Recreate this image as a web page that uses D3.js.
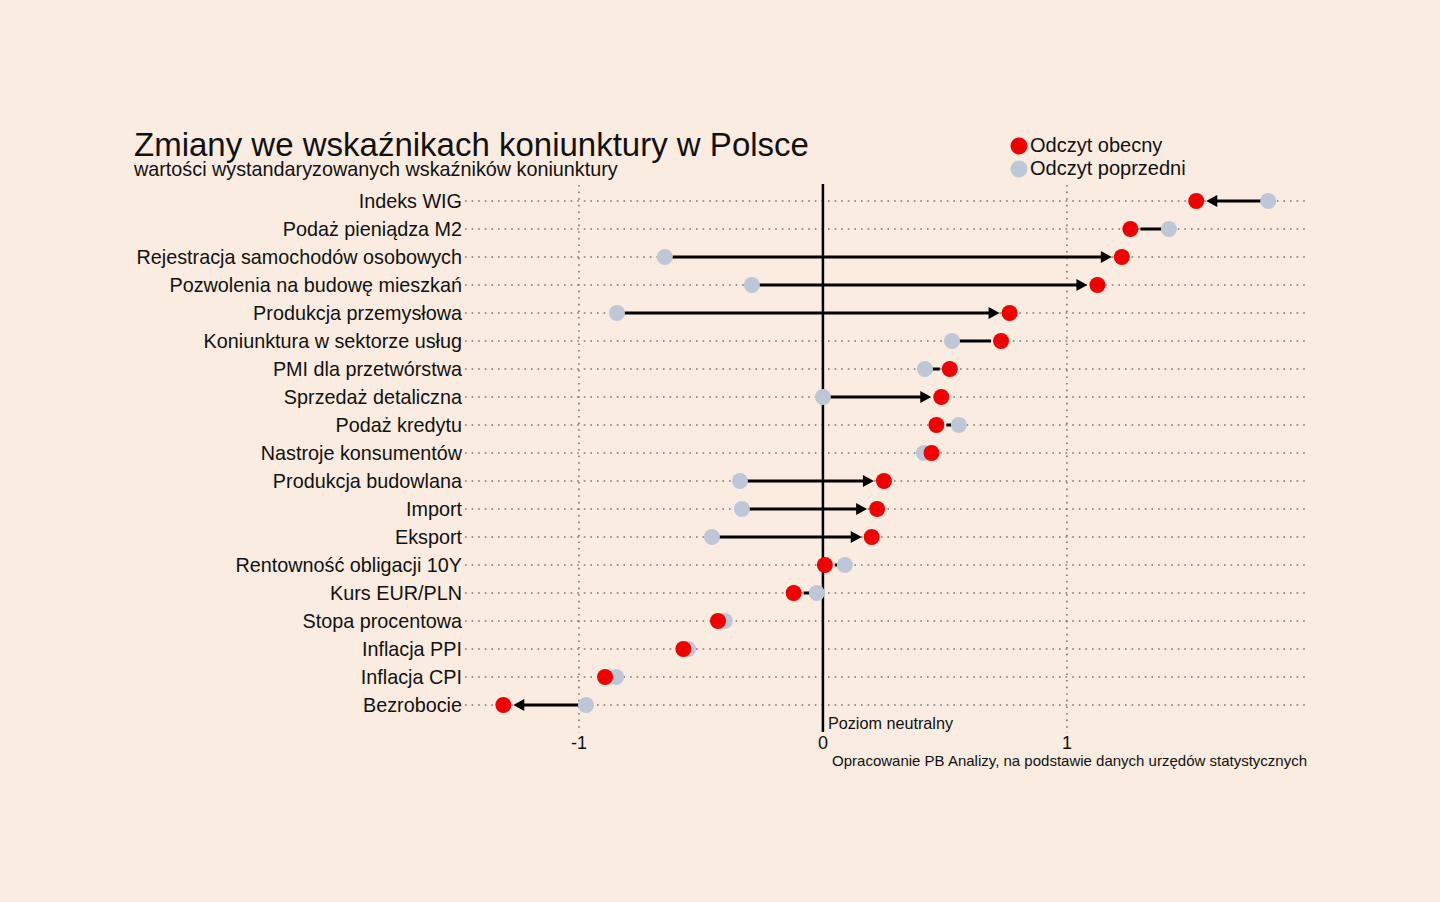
<!DOCTYPE html>
<html>
<head>
<meta charset="utf-8">
<script src="https://cdn.jsdelivr.net/npm/d3@7"></script>
<style>
  html, body { margin: 0; padding: 0; background: #faece0; }
  svg { display: block; font-family: "Liberation Sans", Arial, sans-serif; }
</style>
</head>
<body>
<div id="chart"></div>
<script>
// indicators, top to bottom
const categories = [
  "Indeks WIG", "Podaż pieniądza M2", "Rejestracja samochodów osobowych",
  "Pozwolenia na budowę mieszkań", "Produkcja przemysłowa", "Koniunktura w sektorze usług",
  "PMI dla przetwórstwa", "Sprzedaż detaliczna", "Podaż kredytu", "Nastroje konsumentów",
  "Produkcja budowlana", "Import", "Eksport", "Rentowność obligacji 10Y", "Kurs EUR/PLN",
  "Stopa procentowa", "Inflacja PPI", "Inflacja CPI", "Bezrobocie"
]
const current = [1.53, 1.26, 1.225, 1.125, 0.765, 0.73, 0.52, 0.485, 0.465, 0.445,
  0.25, 0.222, 0.2, 0.008, -0.12, -0.43, -0.572, -0.893, -1.31]
const previous = [1.825, 1.418, -0.648, -0.291, -0.844, 0.529, 0.418, 0.0, 0.557, 0.414,
  -0.34, -0.332, -0.455, 0.09, -0.025, -0.402, -0.553, -0.848, -0.971]
const xTicks = [-1, 0, 1]

const width = 1440, height = 902
const svg = d3.select("#chart").append("svg")
  .attr("width", width).attr("height", height)

svg.append("rect").attr("width", width).attr("height", height).attr("fill", "#faece0")

const x = d3.scaleLinear().domain([-1.467, 1.984]).range([465, 1307])
const y = d3.scalePoint().domain(categories).range([201, 705])

const rows = categories.map((c, i) => ({ name: c, cur: current[i], prev: previous[i] }))

// title
svg.append("text").attr("x", 134).attr("y", 156)
  .attr("font-size", 33).attr("fill", "#111")
  .text("Zmiany we wskaźnikach koniunktury w Polsce")
svg.append("text").attr("x", 134).attr("y", 176)
  .attr("font-size", 19.8).attr("fill", "#111")
  .text("wartości wystandaryzowanych wskaźników koniunktury")

// legend
const legend = [["Odczyt obecny", "#f00000"], ["Odczyt poprzedni", "#bec7d8"]]
legend.forEach((l, i) => {
  svg.append("circle").attr("cx", 1019).attr("cy", 146 + i * 23).attr("r", 8.5).attr("fill", l[1])
  svg.append("text").attr("x", 1030).attr("y", 152 + i * 23)
    .attr("font-size", 20).attr("fill", "#111").text(l[0])
})

// vertical grid at ticks
svg.append("g").selectAll("line")
  .data(xTicks.filter(d => d !== 0))
  .join("line")
  .attr("x1", d => x(d)).attr("x2", d => x(d))
  .attr("y1", 185).attr("y2", 733)
  .attr("stroke", "#777").attr("stroke-width", 1.6)
  .attr("stroke-dasharray", "1.6,5")

// horizontal row lines
svg.append("g").selectAll("line")
  .data(rows)
  .join("line")
  .attr("x1", 465).attr("x2", 1307)
  .attr("y1", d => y(d.name)).attr("y2", d => y(d.name))
  .attr("stroke", "#777").attr("stroke-width", 1.6)
  .attr("stroke-dasharray", "1.6,5")

// zero line
svg.append("line")
  .attr("x1", x(0)).attr("x2", x(0)).attr("y1", 184).attr("y2", 732)
  .attr("stroke", "#000").attr("stroke-width", 2.5)

svg.append("text").attr("x", x(0) + 5).attr("y", 729)
  .attr("font-size", 16.2).attr("fill", "#111").text("Poziom neutralny")

// axis labels
svg.append("g").selectAll("text")
  .data(xTicks)
  .join("text")
  .attr("x", d => x(d)).attr("y", 749)
  .attr("text-anchor", "middle").attr("font-size", 18).attr("fill", "#111")
  .text(d => d < 0 ? "-" + Math.abs(d) : d)

svg.append("text").attr("x", 1307).attr("y", 766)
  .attr("text-anchor", "end").attr("font-size", 15).attr("fill", "#111")
  .text("Opracowanie PB Analizy, na podstawie danych urzędów statystycznych")

// category labels
svg.append("g").selectAll("text")
  .data(rows)
  .join("text")
  .attr("x", 462).attr("y", d => y(d.name) + 7)
  .attr("text-anchor", "end").attr("font-size", 19.8).attr("fill", "#111")
  .text(d => d.name)

// change lines with arrowheads
const r = 8
const arrows = svg.append("g")
rows.forEach(d => {
  const dir = d.cur > d.prev ? 1 : -1
  const diff = Math.abs(d.cur - d.prev)
  const py = y(d.name)
  const x0 = x(d.prev)
  const tip = x(d.cur) - dir * (r + 2)
  if (Math.abs(tip - x0) < 2) return
  const big = diff > 0.25
  const lineEnd = big ? tip - dir * 8 : tip
  arrows.append("line")
    .attr("x1", x0).attr("x2", lineEnd).attr("y1", py).attr("y2", py)
    .attr("stroke", "#000").attr("stroke-width", 3)
  if (big) {
    arrows.append("path")
      .attr("d", d3.line()([[tip, py], [tip - dir * 11, py - 6], [tip - dir * 11, py + 6]]) + "Z")
      .attr("fill", "#000")
  }
})

// previous dots
svg.append("g").selectAll("circle")
  .data(rows)
  .join("circle")
  .attr("cx", d => x(d.prev)).attr("cy", d => y(d.name)).attr("r", r)
  .attr("fill", "#bec7d8")

// current dots
svg.append("g").selectAll("circle")
  .data(rows)
  .join("circle")
  .attr("cx", d => x(d.cur)).attr("cy", d => y(d.name)).attr("r", r)
  .attr("fill", "#f00000")
</script>
</body>
</html>
